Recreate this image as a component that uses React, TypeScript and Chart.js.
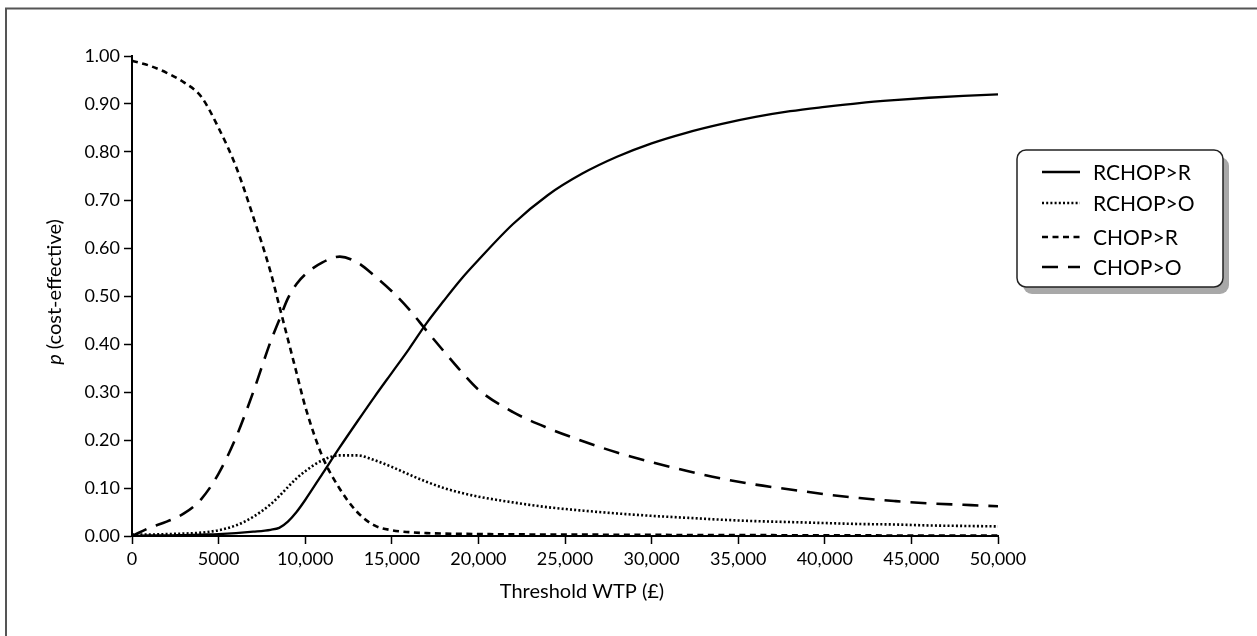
import React, { useEffect, useRef } from "react";
import { Chart, registerables } from "chart.js";

Chart.register(...registerables);

const wtp = [0, 1000, 2000, 3000, 4000, 5000, 6000, 7000, 8000, 8500, 9000, 9500, 10000, 11000, 12000, 13000, 14000, 15000, 16000, 17000, 18000, 19000, 20000, 22000, 24000, 26000, 28000, 30000, 32000, 34000, 36000, 38000, 40000, 42000, 44000, 46000, 48000, 50000];

const rchopR = [0, 0.001, 0.001, 0.002, 0.003, 0.004, 0.006, 0.009, 0.013, 0.017, 0.03, 0.05, 0.075, 0.13, 0.185, 0.238, 0.29, 0.34, 0.39, 0.443, 0.49, 0.535, 0.575, 0.65, 0.71, 0.755, 0.79, 0.818, 0.84, 0.858, 0.873, 0.885, 0.894, 0.902, 0.908, 0.913, 0.917, 0.92];

const rchopO = [0.003, 0.003, 0.004, 0.005, 0.007, 0.012, 0.022, 0.04, 0.066, 0.083, 0.102, 0.12, 0.135, 0.158, 0.168, 0.168, 0.158, 0.144, 0.128, 0.113, 0.1, 0.09, 0.082, 0.07, 0.06, 0.053, 0.047, 0.042, 0.038, 0.034, 0.031, 0.029, 0.027, 0.025, 0.024, 0.022, 0.021, 0.02];

const chopR = [0.99, 0.98, 0.965, 0.945, 0.915, 0.85, 0.77, 0.665, 0.55, 0.48, 0.41, 0.34, 0.27, 0.165, 0.098, 0.05, 0.022, 0.012, 0.008, 0.006, 0.005, 0.0045, 0.004, 0.0035, 0.003, 0.003, 0.0025, 0.0025, 0.002, 0.002, 0.002, 0.0015, 0.0015, 0.0015, 0.001, 0.001, 0.001, 0.001];

const chopO = [0, 0.017, 0.03, 0.047, 0.077, 0.13, 0.205, 0.3, 0.405, 0.45, 0.495, 0.525, 0.545, 0.57, 0.582, 0.57, 0.542, 0.51, 0.472, 0.428, 0.385, 0.343, 0.305, 0.258, 0.225, 0.198, 0.174, 0.154, 0.136, 0.12, 0.107, 0.097, 0.087, 0.079, 0.073, 0.068, 0.065, 0.062];

const seriesLabels = ["RCHOP>R", "RCHOP>O", "CHOP>R", "CHOP>O"];
const seriesValues = [rchopR, rchopO, chopR, chopO];
const seriesDashes: number[][] = [[], [2, 2.2], [6, 4.5], [16, 10]];

const xTitle = "Threshold WTP (£)";
const yTitleItalic = "p";
const yTitleRest = " (cost-effective)";

const FONT = "Lato, 'Open Sans', sans-serif";

const decorPlugin = {
  id: "decor",
  afterDraw(chart: any) {
    const ctx = chart.ctx as CanvasRenderingContext2D;
    ctx.save();
    // outer frame (left + top)
    ctx.strokeStyle = "#555";
    ctx.lineWidth = 2;
    ctx.beginPath();
    ctx.moveTo(6, 640);
    ctx.lineTo(6, 8.5);
    ctx.lineTo(1260, 8.5);
    ctx.stroke();

    // x title
    ctx.fillStyle = "#000";
    ctx.font = `20px ${FONT}`;
    ctx.textAlign = "center";
    ctx.textBaseline = "middle";
    ctx.fillText(xTitle, 582, 592);

    // y title
    ctx.save();
    ctx.translate(55, 292);
    ctx.rotate(-Math.PI / 2);
    ctx.textAlign = "left";
    ctx.font = `italic 20px ${FONT}`;
    const w1 = ctx.measureText(yTitleItalic).width;
    ctx.font = `20px ${FONT}`;
    const w2 = ctx.measureText(yTitleRest).width;
    const start = -(w1 + w2) / 2;
    ctx.font = `italic 20px ${FONT}`;
    ctx.fillText(yTitleItalic, start, 0);
    ctx.font = `20px ${FONT}`;
    ctx.fillText(yTitleRest, start + w1, 0);
    ctx.restore();

    // legend box
    const bx = 1017, by = 150, bw = 206, bh = 137;
    ctx.fillStyle = "#a8a8a8";
    ctx.beginPath();
    (ctx as any).roundRect(bx + 6, by + 7, bw, bh, 9);
    ctx.fill();
    ctx.fillStyle = "#fff";
    ctx.strokeStyle = "#222";
    ctx.lineWidth = 1.5;
    ctx.beginPath();
    (ctx as any).roundRect(bx, by, bw, bh, 9);
    ctx.fill();
    ctx.stroke();

    const rows = [172, 203, 237, 267];
    chart.data.datasets.forEach((ds: any, i: number) => {
      const y = rows[i];
      ctx.strokeStyle = "#000";
      ctx.lineWidth = ds.borderWidth;
      ctx.setLineDash(ds.borderDash || []);
      ctx.beginPath();
      ctx.moveTo(1042, y);
      ctx.lineTo(1080, y);
      ctx.stroke();
      ctx.setLineDash([]);
      ctx.fillStyle = "#000";
      ctx.font = `21px ${FONT}`;
      ctx.textAlign = "left";
      ctx.textBaseline = "middle";
      ctx.fillText(ds.label, 1093, y + 1);
    });
    ctx.restore();
  },
};

export default function App() {
  const ref = useRef<HTMLCanvasElement | null>(null);
  useEffect(() => {
    if (!ref.current) return;
    const chart = new Chart(ref.current, {
      type: "line",
      data: {
        datasets: seriesLabels.map((label, i) => ({
          label,
          data: wtp.map((x, j) => ({ x, y: seriesValues[i][j] })),
          borderColor: "#000",
          backgroundColor: "#000",
          borderWidth: i === 0 ? 2.3 : 2.6,
          borderDash: seriesDashes[i],
          pointRadius: 0,
          cubicInterpolationMode: "monotone" as const,
          fill: false,
        })),
      },
      options: {
        animation: false,
        responsive: false,
        events: [],
        layout: { padding: { left: 0, top: 56, right: 259, bottom: 40 } },
        plugins: { legend: { display: false }, tooltip: { enabled: false }, title: { display: false } },
        scales: {
          x: {
            type: "linear",
            min: 0,
            max: 50000,
            afterFit: (s: any) => { s.height = 60; },
            ticks: {
              stepSize: 5000,
              color: "#000",
              padding: 4,
              maxRotation: 0,
              font: { family: FONT, size: 18 },
              callback: (v: any) => (v < 10000 ? String(v) : Number(v).toLocaleString("en-US")),
            },
            grid: { drawOnChartArea: false, drawTicks: true, tickLength: 8, tickColor: "#000", tickWidth: 1.5 },
            border: { display: true, color: "#000", width: 2 },
          },
          y: {
            type: "linear",
            min: 0,
            max: 1,
            afterFit: (s: any) => { s.width = 132; },
            ticks: {
              stepSize: 0.1,
              color: "#000",
              padding: 4,
              font: { family: FONT, size: 18 },
              callback: (v: any) => Number(v).toFixed(2),
            },
            grid: { drawOnChartArea: false, drawTicks: true, tickLength: 8, tickColor: "#000", tickWidth: 1.5 },
            border: { display: true, color: "#000", width: 2 },
          },
        },
      },
      plugins: [decorPlugin],
    });
    return () => chart.destroy();
  }, []);
  return (
    <div style={{ position: "fixed", left: 0, top: 0, width: 1257, height: 636, background: "#fff" }}>
      <canvas ref={ref} width={1257} height={636} style={{ width: 1257, height: 636, display: "block" }} />
    </div>
  );
}
